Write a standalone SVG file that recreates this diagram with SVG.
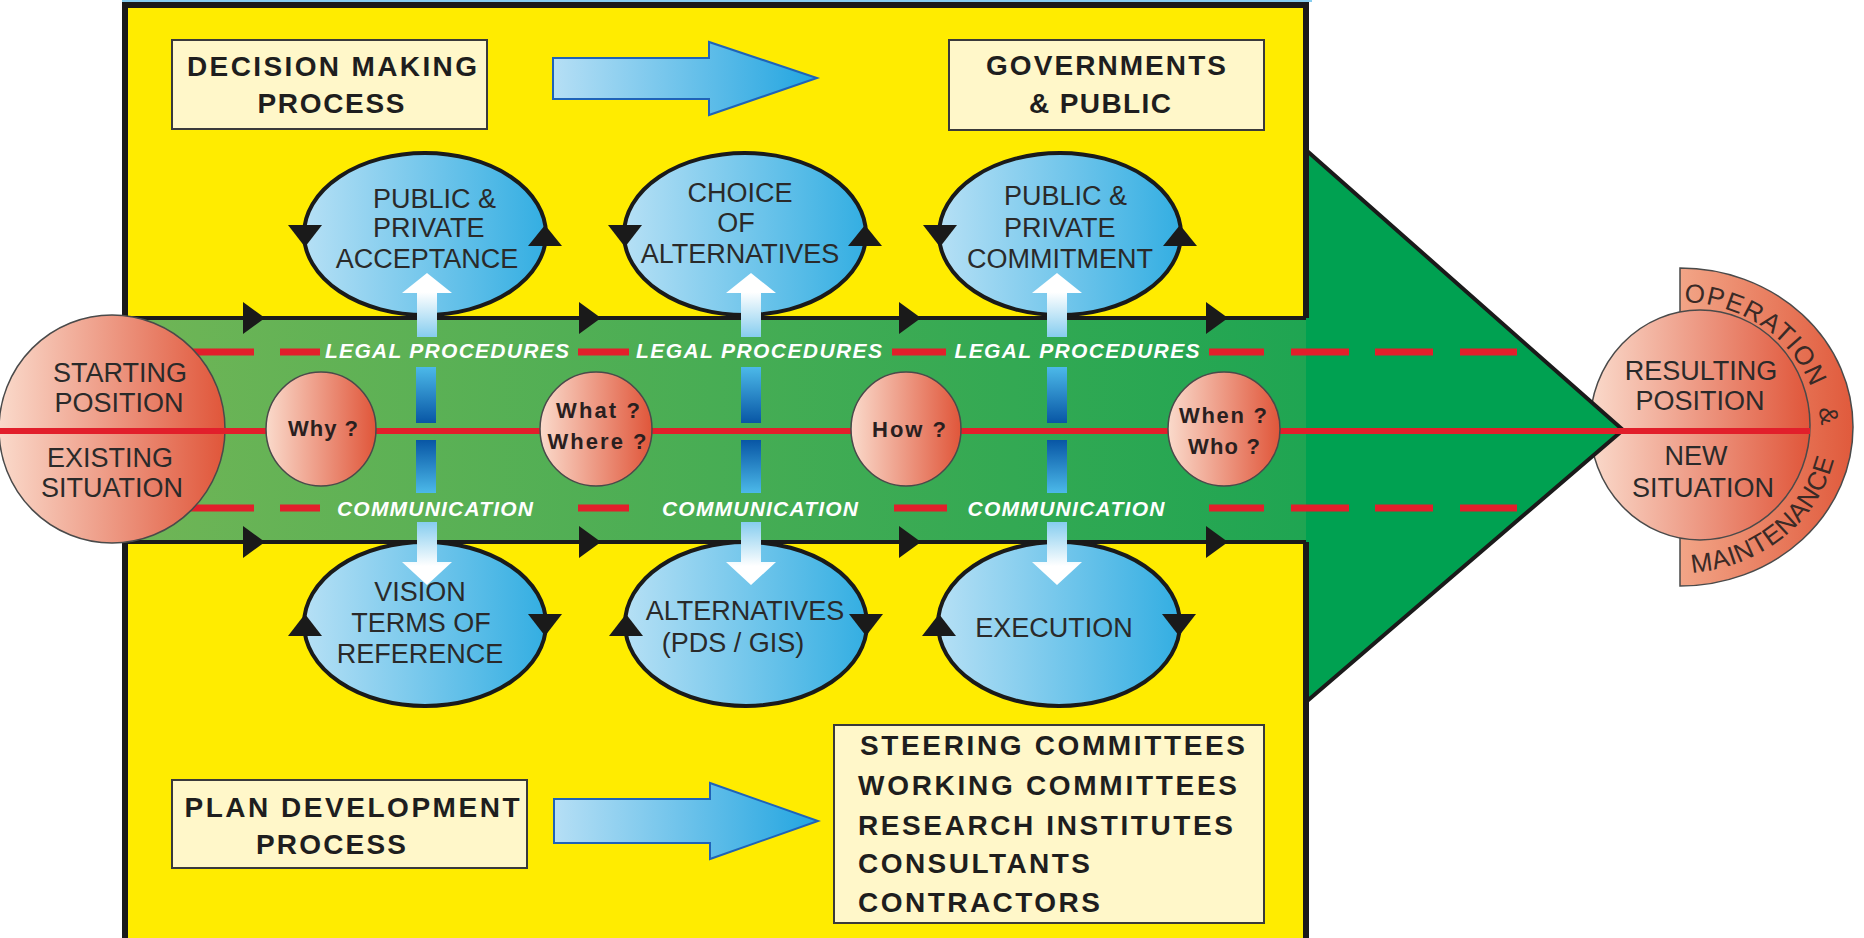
<svg xmlns="http://www.w3.org/2000/svg" width="1864" height="938" viewBox="0 0 1864 938">
<defs>
  <linearGradient id="gBand" gradientUnits="userSpaceOnUse" x1="125" y1="0" x2="1306" y2="0">
    <stop offset="0" stop-color="#70b556"/><stop offset="1" stop-color="#1fa552"/>
  </linearGradient>
  <linearGradient id="gBlue" x1="0" y1="0" x2="1" y2="0">
    <stop offset="0" stop-color="#b6e0f5"/><stop offset="1" stop-color="#33aee2"/>
  </linearGradient>
  <linearGradient id="gOrange" x1="0" y1="0" x2="1" y2="0">
    <stop offset="0" stop-color="#fadacb"/><stop offset="1" stop-color="#e0563a"/>
  </linearGradient>
  <linearGradient id="gOuter" x1="0" y1="0" x2="1" y2="0">
    <stop offset="0" stop-color="#f2a587"/><stop offset="1" stop-color="#e05a3c"/>
  </linearGradient>
  <linearGradient id="gArrow" x1="0" y1="0" x2="1" y2="0">
    <stop offset="0" stop-color="#b6dff5"/><stop offset="1" stop-color="#22a5e0"/>
  </linearGradient>
  <linearGradient id="gBarUp" x1="0" y1="0" x2="0" y2="1">
    <stop offset="0" stop-color="#4cb9e9"/><stop offset="1" stop-color="#0856a5"/>
  </linearGradient>
  <linearGradient id="gBarDown" x1="0" y1="0" x2="0" y2="1">
    <stop offset="0" stop-color="#0856a5"/><stop offset="1" stop-color="#4cb9e9"/>
  </linearGradient>
  <linearGradient id="gWUp" x1="0" y1="0" x2="0" y2="1">
    <stop offset="0.3" stop-color="#ffffff"/><stop offset="1" stop-color="#86cdef"/>
  </linearGradient>
  <linearGradient id="gWDown" x1="0" y1="0" x2="0" y2="1">
    <stop offset="0" stop-color="#86cdef"/><stop offset="0.7" stop-color="#ffffff"/>
  </linearGradient>
  <path id="pOper" d="M1682 302 A138 125 0 0 1 1818 427"/>
  <path id="pMaint" d="M1680 573 A158 146 0 0 0 1838 427"/>
</defs>
<style>
  .t{font-family:"Liberation Sans",Arial,Helvetica,sans-serif;fill:#2a2a2a}
  .n{font-size:27px}
  .b{font-weight:bold;font-size:28px;fill:#1e1e1e}
  .w{font-weight:bold;font-style:italic;font-size:21px;fill:#ffffff}
  .q{font-weight:bold;font-size:22px;fill:#2a1f1f}
  .c{font-size:26px;fill:#3a2a26}
  .box{fill:#fff7c9;stroke:#3a3a3a;stroke-width:2}
  .ell{fill:url(#gBlue);stroke:#1a1a1a;stroke-width:4}
  .org{fill:url(#gOrange);stroke:#4a4a4a;stroke-width:1.5}
  .ah{fill:#1a1a1a}
  .big{fill:url(#gArrow);stroke:#1f63b8;stroke-width:2}
</style>

<g id="background">
  <rect x="125" y="5" width="1181" height="940" fill="#ffec00"/>
  <rect x="122" y="0" width="1190" height="2" fill="#86cdef"/>
</g>

<g id="resulting-position">
  <path d="M1680 268 A173 159 0 0 1 1680 586 Z" fill="url(#gOuter)" stroke="#4a4a4a" stroke-width="1.5"/>
  <ellipse cx="1700" cy="425" rx="110" ry="115" fill="url(#gOrange)" stroke="#4a4a4a" stroke-width="1.5"/>
  <text class="t n" text-anchor="middle" x="1701" y="380">RESULTING</text>
  <text class="t n" text-anchor="middle" x="1700" y="410">POSITION</text>
  <text class="t n" text-anchor="middle" x="1696" y="465">NEW</text>
  <text class="t n" text-anchor="middle" x="1703" y="497">SITUATION</text>
  <text class="t c"><textPath href="#pOper" startOffset="2" textLength="162" lengthAdjust="spacing">OPERATION</textPath></text>
  <text class="t c" transform="translate(1820 417) rotate(80)" text-anchor="middle" font-size="24">&amp;</text>
  <text class="t c"><textPath href="#pMaint" startOffset="12" textLength="194" lengthAdjust="spacing">MAINTENANCE</textPath></text>
</g>

<g id="green-arrow">
  <polygon points="1306,150 1623,430 1306,702" fill="#00a151"/>
  <path d="M1306 150 L1623 430 L1306 702" fill="none" stroke="#1a1a1a" stroke-width="4" stroke-linejoin="miter"/>
  <rect x="125" y="318" width="1181" height="224" fill="url(#gBand)"/>
</g>

<g id="frame" fill="none" stroke="#1a1a1a">
  <path d="M125 940 V5 H1306 V318" stroke-width="6"/>
  <path d="M1306 542 V940" stroke-width="6"/>
  <path d="M125 318 H1306 M125 542 H1306" stroke-width="4"/>
</g>

<g id="connectors">
  <g class="ah">
    <polygon points="243,302 265,318 243,334"/>
    <polygon points="579,302 601,318 579,334"/>
    <polygon points="899,302 921,318 899,334"/>
    <polygon points="1206,302 1228,318 1206,334"/>
    <polygon points="243,526 265,542 243,558"/>
    <polygon points="579,526 601,542 579,558"/>
    <polygon points="899,526 921,542 899,558"/>
    <polygon points="1206,526 1228,542 1206,558"/>
  </g>
  <path d="M190 352 H254 M280 352 H320 M578 352 H629 M892 352 H946 M1209 352 H1264 M1291 352 H1349 M1375 352 H1433 M1460 352 H1517 M190 508 H254 M280 508 H320 M578 508 H629 M894 508 H947 M1209 508 H1264 M1291 508 H1349 M1375 508 H1433 M1460 508 H1517" stroke="#e21f2b" stroke-width="7" fill="none"/>
</g>

<g id="starting-position">
  <ellipse cx="112" cy="429" rx="113" ry="114" fill="url(#gOrange)" stroke="#4a4a4a" stroke-width="1.5"/>
  <text class="t n" text-anchor="middle" x="120" y="382">STARTING</text>
  <text class="t n" text-anchor="middle" x="119" y="412">POSITION</text>
  <text class="t n" text-anchor="middle" x="110" y="467">EXISTING</text>
  <text class="t n" text-anchor="middle" x="112" y="497">SITUATION</text>
</g>

<g id="centre-line">
  <path d="M0 431 H1810" stroke="#e21f2b" stroke-width="6" fill="none"/>
</g>

<g id="q-why">
  <ellipse class="org" cx="321" cy="429" rx="55" ry="57"/>
  <text class="t q" text-anchor="middle" x="323" y="436" textLength="70" lengthAdjust="spacing">Why ?</text>
</g>
<g id="q-what">
  <ellipse class="org" cx="596" cy="429" rx="56" ry="57"/>
  <text class="t q" text-anchor="middle" x="598" y="418" textLength="84" lengthAdjust="spacing">What ?</text>
  <text class="t q" text-anchor="middle" x="597" y="449" textLength="99" lengthAdjust="spacing">Where ?</text>
</g>
<g id="q-how">
  <ellipse class="org" cx="906" cy="429" rx="55" ry="57"/>
  <text class="t q" text-anchor="middle" x="909" y="437" textLength="74" lengthAdjust="spacing">How ?</text>
</g>
<g id="q-when">
  <ellipse class="org" cx="1224" cy="429" rx="56" ry="57"/>
  <text class="t q" text-anchor="middle" x="1223" y="423" textLength="88" lengthAdjust="spacing">When ?</text>
  <text class="t q" text-anchor="middle" x="1224" y="454" textLength="72" lengthAdjust="spacing">Who ?</text>
</g>

<g id="communication-bars">
  <rect x="416" y="367" width="20" height="56" fill="url(#gBarUp)"/>
  <rect x="416" y="440" width="20" height="53" fill="url(#gBarDown)"/>
  <rect x="741" y="367" width="20" height="56" fill="url(#gBarUp)"/>
  <rect x="741" y="440" width="20" height="53" fill="url(#gBarDown)"/>
  <rect x="1047" y="367" width="20" height="56" fill="url(#gBarUp)"/>
  <rect x="1047" y="440" width="20" height="53" fill="url(#gBarDown)"/>
</g>

<g id="band-labels">
  <text class="t w" text-anchor="middle" x="447" y="358" textLength="244" lengthAdjust="spacing">LEGAL PROCEDURES</text>
  <text class="t w" text-anchor="middle" x="759" y="358" textLength="246" lengthAdjust="spacing">LEGAL PROCEDURES</text>
  <text class="t w" text-anchor="middle" x="1077" y="358" textLength="245" lengthAdjust="spacing">LEGAL PROCEDURES</text>
  <text class="t w" text-anchor="middle" x="435" y="516" textLength="196" lengthAdjust="spacing">COMMUNICATION</text>
  <text class="t w" text-anchor="middle" x="760" y="516" textLength="196" lengthAdjust="spacing">COMMUNICATION</text>
  <text class="t w" text-anchor="middle" x="1066" y="516" textLength="197" lengthAdjust="spacing">COMMUNICATION</text>
</g>

<g id="public-private-acceptance">
  <ellipse class="ell" cx="425" cy="234" rx="121" ry="81"/>
  <polygon class="ah" points="288,225 322,225 305,247"/>
  <polygon class="ah" points="528,246 562,246 545,225"/>
  <text class="t n" x="373" y="208">PUBLIC &amp;</text>
  <text class="t n" x="373" y="237">PRIVATE</text>
  <text class="t n" text-anchor="middle" x="427" y="268">ACCEPTANCE</text>
</g>
<g id="choice-of-alternatives">
  <ellipse class="ell" cx="745" cy="234" rx="121" ry="81"/>
  <polygon class="ah" points="608,225 642,225 625,247"/>
  <polygon class="ah" points="848,246 882,246 865,225"/>
  <text class="t n" text-anchor="middle" x="740" y="202">CHOICE</text>
  <text class="t n" text-anchor="middle" x="736" y="232">OF</text>
  <text class="t n" text-anchor="middle" x="740" y="263">ALTERNATIVES</text>
</g>
<g id="public-private-commitment">
  <ellipse class="ell" cx="1060" cy="234" rx="121" ry="81"/>
  <polygon class="ah" points="923,225 957,225 940,247"/>
  <polygon class="ah" points="1163,246 1197,246 1180,225"/>
  <text class="t n" x="1004" y="205">PUBLIC &amp;</text>
  <text class="t n" x="1004" y="237">PRIVATE</text>
  <text class="t n" text-anchor="middle" x="1060" y="268">COMMITMENT</text>
</g>
<g id="vision">
  <ellipse class="ell" cx="425" cy="624" rx="121" ry="82"/>
  <polygon class="ah" points="288,636 322,636 305,614"/>
  <polygon class="ah" points="528,614 562,614 545,636"/>
  <text class="t n" text-anchor="middle" x="420" y="601">VISION</text>
  <text class="t n" text-anchor="middle" x="421" y="632">TERMS  OF</text>
  <text class="t n" text-anchor="middle" x="420" y="663">REFERENCE</text>
</g>
<g id="alternatives">
  <ellipse class="ell" cx="746" cy="624" rx="121" ry="82"/>
  <polygon class="ah" points="609,636 643,636 626,614"/>
  <polygon class="ah" points="849,614 883,614 866,636"/>
  <text class="t n" text-anchor="middle" x="745" y="620">ALTERNATIVES</text>
  <text class="t n" text-anchor="middle" x="733" y="652">(PDS / GIS)</text>
</g>
<g id="execution">
  <ellipse class="ell" cx="1059" cy="624" rx="121" ry="82"/>
  <polygon class="ah" points="922,636 956,636 939,614"/>
  <polygon class="ah" points="1162,614 1196,614 1179,636"/>
  <text class="t n" text-anchor="middle" x="1054" y="637">EXECUTION</text>
</g>

<g id="white-arrows">
  <path d="M417 337 V293 H402 L427 273 L452 293 H437 V337 Z" fill="url(#gWUp)"/>
  <path d="M741 337 V293 H726 L751 273 L776 293 H761 V337 Z" fill="url(#gWUp)"/>
  <path d="M1047 337 V293 H1032 L1057 273 L1082 293 H1067 V337 Z" fill="url(#gWUp)"/>
  <path d="M417 522 V562 H402 L427 585 L452 562 H437 V522 Z" fill="url(#gWDown)"/>
  <path d="M741 522 V562 H726 L751 585 L776 562 H761 V522 Z" fill="url(#gWDown)"/>
  <path d="M1047 522 V562 H1032 L1057 585 L1082 562 H1067 V522 Z" fill="url(#gWDown)"/>
</g>

<g id="decision-making">
  <rect class="box" x="172" y="40" width="315" height="89"/>
  <text class="t b" text-anchor="middle" x="332" y="76" textLength="290" lengthAdjust="spacing">DECISION  MAKING</text>
  <text class="t b" text-anchor="middle" x="331" y="113" textLength="147" lengthAdjust="spacing">PROCESS</text>
</g>
<g id="top-arrow">
  <path class="big" d="M553 58 H709 V42 L817 78 L709 115 V99 H553 Z"/>
</g>
<g id="governments">
  <rect class="box" x="949" y="40" width="315" height="90"/>
  <text class="t b" text-anchor="middle" x="1106" y="75" textLength="240" lengthAdjust="spacing">GOVERNMENTS</text>
  <text class="t b" text-anchor="middle" x="1100" y="113" textLength="142" lengthAdjust="spacing">&amp; PUBLIC</text>
</g>
<g id="plan-development">
  <rect class="box" x="172" y="780" width="355" height="88"/>
  <text class="t b" text-anchor="middle" x="352" y="817" textLength="335" lengthAdjust="spacing">PLAN  DEVELOPMENT</text>
  <text class="t b" text-anchor="middle" x="331" y="854" textLength="150" lengthAdjust="spacing">PROCESS</text>
</g>
<g id="bottom-arrow">
  <path class="big" d="M554 799 H710 V783 L818 821 L710 859 V843 H554 Z"/>
</g>
<g id="actors">
  <rect class="box" x="834" y="725" width="430" height="198"/>
  <text class="t b" x="860" y="755" textLength="385" lengthAdjust="spacing">STEERING  COMMITTEES</text>
  <text class="t b" x="858" y="795" textLength="379" lengthAdjust="spacing">WORKING  COMMITTEES</text>
  <text class="t b" x="858" y="835" textLength="375" lengthAdjust="spacing">RESEARCH  INSTITUTES</text>
  <text class="t b" x="858" y="873" textLength="232" lengthAdjust="spacing">CONSULTANTS</text>
  <text class="t b" x="858" y="912" textLength="242" lengthAdjust="spacing">CONTRACTORS</text>
</g>
</svg>
